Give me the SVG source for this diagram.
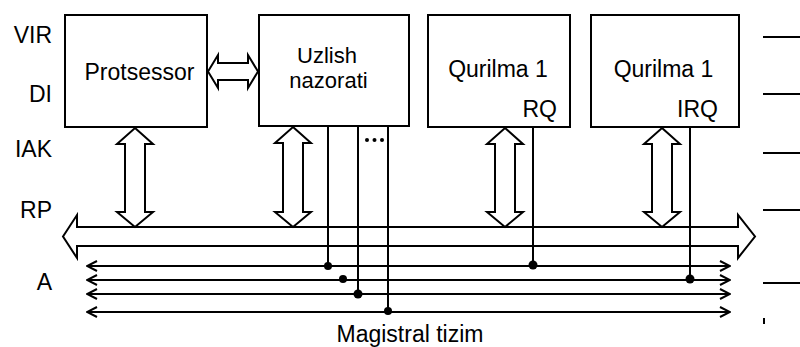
<svg xmlns="http://www.w3.org/2000/svg" width="800" height="347" viewBox="0 0 800 347">
<style>
.box{fill:#fff;stroke:#000;stroke-width:2}
.t{font-family:"Liberation Sans",Arial,sans-serif;font-size:23px;fill:#000}
.ln{stroke:#000;stroke-width:2;fill:none}
.ha{fill:#fff;stroke:#000;stroke-width:2;stroke-linejoin:miter}
.dot{fill:#000}
</style>
<defs>
<marker id="ar" viewBox="0 0 12 12" refX="11" refY="6" markerWidth="12" markerHeight="12" markerUnits="userSpaceOnUse" orient="auto-start-reverse">
<path d="M1,1 L11,6 L1,11" fill="none" stroke="#000" stroke-width="2"/>
</marker>
</defs>
<rect width="800" height="347" fill="#fff"/>
<g id="labels">
<text class="t" x="52" y="43" text-anchor="end">VIR</text>
<text class="t" x="52" y="102" text-anchor="end">DI</text>
<text class="t" x="52" y="157" text-anchor="end">IAK</text>
<text class="t" x="52" y="218" text-anchor="end">RP</text>
<text class="t" x="52" y="290" text-anchor="end">A</text>
</g>
<g id="connectors">
<polygon class="ha" points="208,71.5 218,55 218,63 248,63 248,55 258,71.5 248,88 248,80 218,80 218,88"/>
<polygon class="ha" points="63,236.5 77,215 77,227 738,227 738,215 755,236.5 738,258 738,246 77,246 77,258"/>
<polygon class="ha" points="135,128 153,144 145,144 145,212 153,212 135,227 117,212 125,212 125,144 117,144"/>
<polygon class="ha" points="293,127 311,143 303,143 303,212 311,212 293,227 275,212 283,212 283,143 275,143"/>
<polygon class="ha" points="505,128 523,144 515,144 515,212 523,212 505,227 487,212 495,212 495,144 487,144"/>
<polygon class="ha" points="662,128 680,144 672,144 672,212 680,212 662,227 644,212 652,212 652,144 644,144"/>
<line class="ln" x1="87" y1="266" x2="730" y2="266" marker-start="url(#ar)" marker-end="url(#ar)"/>
<line class="ln" x1="87" y1="280" x2="730" y2="280" marker-start="url(#ar)" marker-end="url(#ar)"/>
<line class="ln" x1="87" y1="294" x2="730" y2="294" marker-start="url(#ar)" marker-end="url(#ar)"/>
<line class="ln" x1="87" y1="312" x2="730" y2="312" marker-start="url(#ar)" marker-end="url(#ar)"/>
<line class="ln" x1="328" y1="126" x2="328" y2="266"/>
<line class="ln" x1="358" y1="126" x2="358" y2="294"/>
<line class="ln" x1="388" y1="126" x2="388" y2="312"/>
<line class="ln" x1="533" y1="127" x2="533" y2="266"/>
<line class="ln" x1="690" y1="127" x2="690" y2="280"/>
<circle class="dot" cx="328" cy="266" r="4"/>
<circle class="dot" cx="343" cy="279" r="4"/>
<circle class="dot" cx="358" cy="294" r="4.5"/>
<circle class="dot" cx="388" cy="311" r="4"/>
<circle class="dot" cx="533" cy="265" r="4.5"/>
<circle class="dot" cx="690" cy="279" r="4.5"/>
<circle class="dot" cx="367" cy="140" r="2"/>
<circle class="dot" cx="374.5" cy="140" r="2"/>
<circle class="dot" cx="382" cy="140" r="2"/>
<line class="ln" x1="763" y1="37" x2="800" y2="37"/>
<line class="ln" x1="763" y1="94" x2="800" y2="94"/>
<line class="ln" x1="763" y1="153" x2="800" y2="153"/>
<line class="ln" x1="763" y1="210" x2="800" y2="210"/>
<line class="ln" x1="763" y1="283" x2="800" y2="283"/>
<line class="ln" x1="764" y1="318" x2="764" y2="324"/>
</g>
<g id="protsessor">
<rect class="box" x="65" y="15" width="142" height="112"/>
<text class="t" x="139.5" y="80" text-anchor="middle">Protsessor</text>
</g>
<g id="uzlish">
<rect class="box" x="259" y="15" width="150" height="111"/>
<text class="t" x="327" y="63" text-anchor="middle" style="font-size:22px">Uzlish</text>
<text class="t" x="328.5" y="88" text-anchor="middle" style="font-size:22px">nazorati</text>
</g>
<g id="qurilma1">
<rect class="box" x="428" y="15" width="142" height="112"/>
<text class="t" x="498" y="77" text-anchor="middle">Qurilma 1</text>
<text class="t" x="557" y="117" text-anchor="end">RQ</text>
</g>
<g id="qurilma2">
<rect class="box" x="591" y="15" width="148" height="112"/>
<text class="t" x="663.5" y="77" text-anchor="middle">Qurilma 1</text>
<text class="t" x="718" y="117" text-anchor="end">IRQ</text>
</g>
<g id="title">
<text class="t" x="410" y="342" text-anchor="middle">Magistral tizim</text>
</g>
</svg>
